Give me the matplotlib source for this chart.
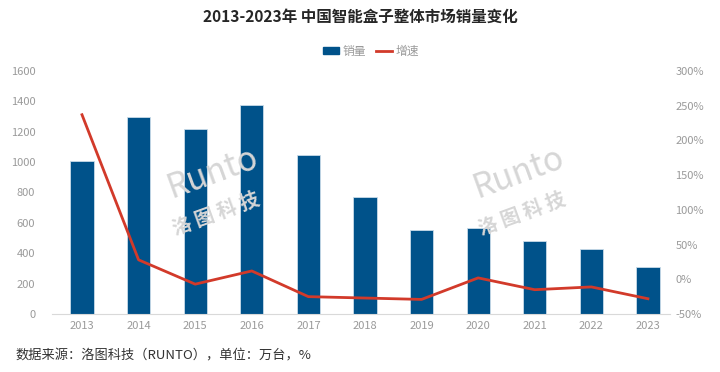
import matplotlib
matplotlib.use("Agg")
import matplotlib.pyplot as plt
from matplotlib.lines import Line2D
from matplotlib.patches import Patch

plt.rcParams['font.family'] = ['Noto Sans CJK SC', 'DejaVu Sans']

# ── data ──
years = ["2013", "2014", "2015", "2016", "2017", "2018",
         "2019", "2020", "2021", "2022", "2023"]
sales = [1005, 1300, 1215, 1375, 1045, 770, 551, 564, 480, 428, 307]      # 万台
growth = [237, 28, -7, 12, -25, -27, -29, 2, -15, -11, -28]               # %

left_ticks = [0, 200, 400, 600, 800, 1000, 1200, 1400, 1600]
right_ticks = [-50, 0, 50, 100, 150, 200, 250, 300]

BLUE = "#00528a"
RED = "#d23a2a"
GREY = "#9a9a9a"

fig = plt.figure(figsize=(7.2, 3.72), dpi=100)

# watermark (drawn first so it sits behind the bars)
for wx in (0.295, 0.72):
    fig.text(wx, 0.535, "Runto", fontsize=24, color="#d6d6d6",
             rotation=20, style="italic", ha="center", va="center", zorder=0)
    fig.text(wx + 0.005, 0.425, "洛 图 科 技", fontsize=14, color="#d6d6d6",
             rotation=20, ha="center", va="center", fontweight="bold", zorder=0)

ax = fig.add_axes([52 / 720, 1 - 314 / 372, (670 - 52) / 720, (314 - 71) / 372])
ax.patch.set_visible(False)
x = list(range(len(years)))

ax.bar(x, sales, width=0.41, color=BLUE, edgecolor="#c9dbe8", linewidth=0.6, zorder=2)
ax.set_xlim(-0.53, 10.39)
ax.set_ylim(0, 1600)
ax.set_yticks(left_ticks)
ax.set_xticks(x)
ax.set_xticklabels(years)

ax2 = ax.twinx()
ax2.plot(x, growth, color=RED, linewidth=2, zorder=3)
ax2.set_ylim(-50, 300)
ax2.set_yticks(right_ticks)
ax2.set_yticklabels([f"{t}%" for t in right_ticks])

for a in (ax, ax2):
    for s in a.spines.values():
        s.set_visible(False)
    a.tick_params(length=0, labelsize=8, colors=GREY)
ax.spines["bottom"].set_visible(True)
ax.spines["bottom"].set_color("#d9d9d9")
ax.tick_params(axis="y", pad=12)
ax.tick_params(axis="x", pad=5)
ax2.tick_params(axis="y", pad=4)

fig.text(0.5, 1 - 17 / 372, "2013-2023年 中国智能盒子整体市场销量变化",
         ha="center", va="center", fontsize=11.2, fontweight="bold", color="#262626")

handles = [Patch(color=BLUE, label="销量"), Line2D([0], [0], color=RED, lw=2, label="增速")]
fig.legend(handles=handles, loc="center", bbox_to_anchor=(0.515, 1 - 51 / 372), ncol=2,
           frameon=False, fontsize=8.5, labelcolor=GREY, handlelength=1.4,
           handleheight=0.5, columnspacing=0.8, handletextpad=0.3)

fig.text(15 / 720, 1 - 356 / 372, "数据来源：洛图科技（RUNTO），单位：万台，%",
         ha="left", va="center", fontsize=9.5, color="#333333")

plt.savefig("out.png", dpi=100)
